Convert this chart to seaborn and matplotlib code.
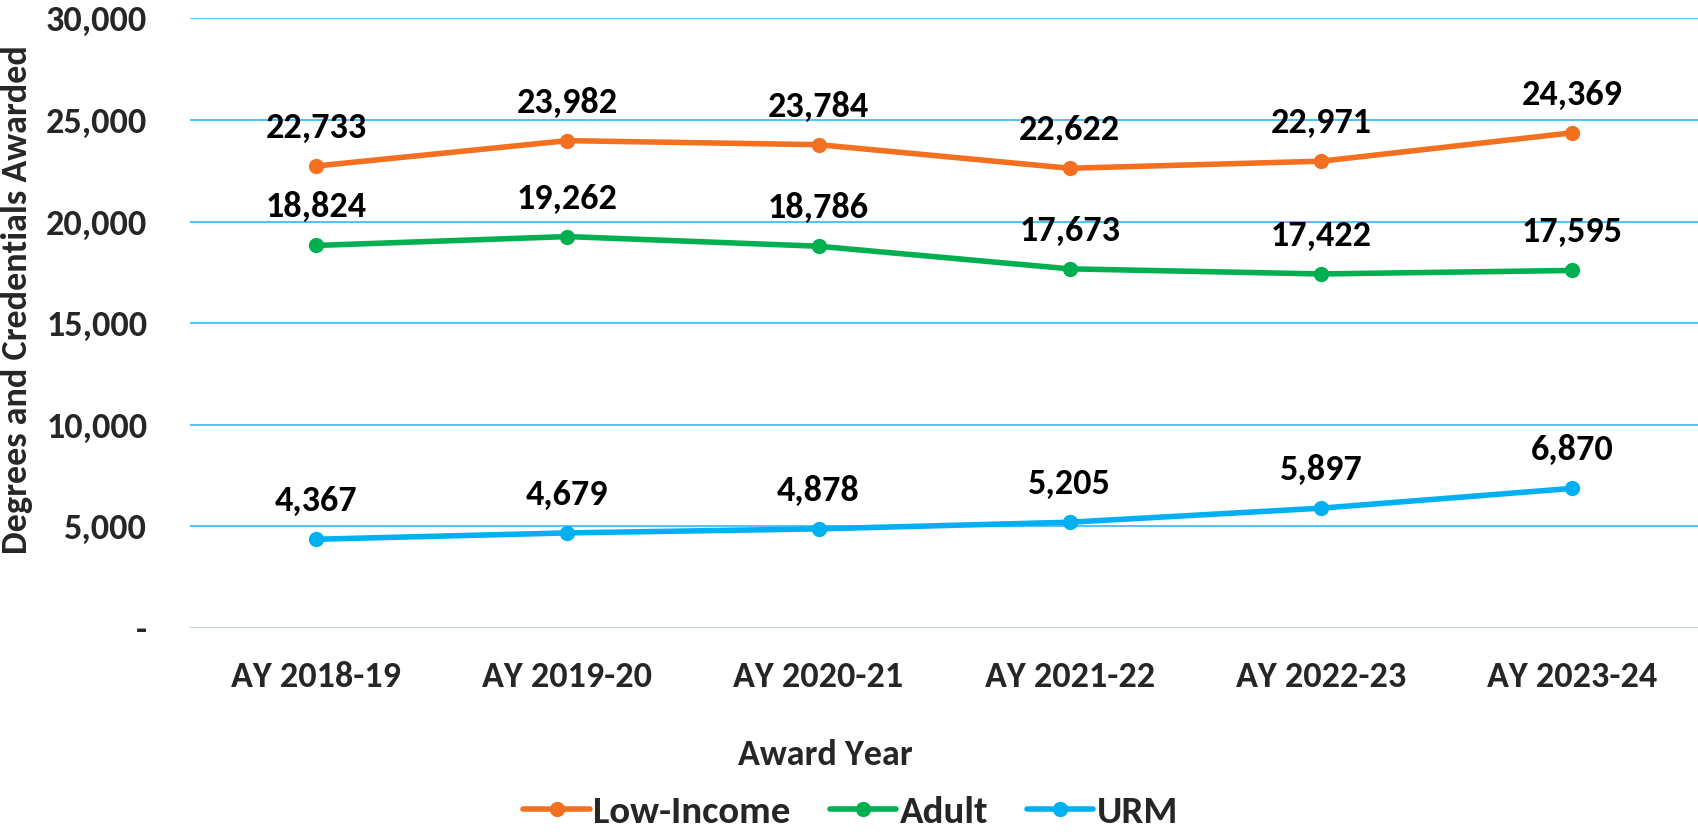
import matplotlib
matplotlib.use("Agg")
import matplotlib.pyplot as plt
import seaborn as sns
import pandas as pd
from matplotlib.ticker import FuncFormatter

years = ["AY 2018-19", "AY 2019-20", "AY 2020-21", "AY 2021-22", "AY 2022-23", "AY 2023-24"]
low_income = [22733, 23982, 23784, 22622, 22971, 24369]
adult = [18824, 19262, 18786, 17673, 17422, 17595]
urm = [4367, 4679, 4878, 5205, 5897, 6870]
series_names = ["Low-Income", "Adult", "URM"]
colors = ["#F37021", "#00B050", "#00B0F0"]

sns.set_theme(style="white")
plt.rcParams["font.family"] = ["Carlito", "DejaVu Sans"]
plt.rcParams["font.weight"] = "bold"

df = pd.DataFrame({
    "Award Year": years * 3,
    "value": low_income + adult + urm,
    "series": sum([[n] * len(years) for n in series_names], []),
})

FS = 26
fig = plt.figure(figsize=(16.98, 8.34), dpi=100)
ax = fig.add_axes([0.1121, 0.247, 0.8879, 0.731])

sns.lineplot(data=df, x="Award Year", y="value", hue="series", hue_order=series_names,
             palette=colors, marker="o", markersize=11, markeredgewidth=0,
             linewidth=4.0, ax=ax, sort=False, legend=True)

for vals in [low_income, adult, urm]:
    for i, v in enumerate(vals):
        ax.annotate(f"{v:,}", (i, v), xytext=(0, 28), textcoords="offset pixels",
                    ha="center", va="baseline", fontsize=FS, fontweight="bold", color="black")

ax.set_ylim(0, 30000)
ax.set_xlim(-0.5, 5.5)
ax.set_yticks(range(0, 30001, 5000))
ax.yaxis.set_major_formatter(FuncFormatter(lambda v, p: "-" if v == 0 else f"{int(v):,}"))
ax.grid(axis="y", color="#4FC3F7", linewidth=1.4)
ax.grid(axis="x", visible=False)
for s in ["top", "right", "left", "bottom"]:
    ax.spines[s].set_visible(False)
ax.axhline(0, color="#D9D9D9", linewidth=1.8, zorder=1)
ax.tick_params(axis="both", length=0, labelsize=FS)
ax.tick_params(axis="y", pad=31)
ax.tick_params(axis="x", pad=24)
for t in ax.get_xticklabels() + ax.get_yticklabels():
    t.set_fontweight("bold")

ax.set_xlabel("")
ax.set_ylabel("")
fig.text(825 / 1698, 1 - 755 / 834, "Award Year", ha="center", va="center",
         fontsize=FS, fontweight="bold")
fig.text(17 / 1698, 1 - 300 / 834, "Degrees and Credentials Awarded", rotation=90,
         ha="center", va="center", fontsize=FS, fontweight="bold")

handles, labels = ax.get_legend_handles_labels()
ax.get_legend().remove()
fig.legend(handles, labels, loc="center", bbox_to_anchor=(851 / 1698, 1 - 812 / 834), ncol=3,
           frameon=False, handlelength=1.7, columnspacing=1.0, handletextpad=0.1,
           prop={"family": "Carlito", "weight": "bold", "size": 28})

fig.savefig("out.png", dpi=100)
